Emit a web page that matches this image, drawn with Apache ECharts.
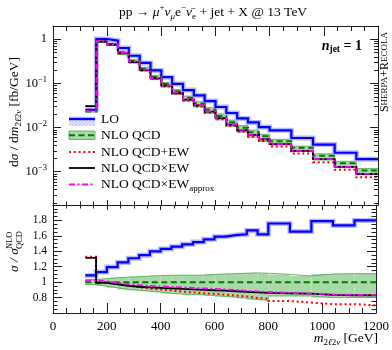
<!DOCTYPE html>
<html>
<head>
<meta charset="utf-8">
<script src="https://cdn.jsdelivr.net/npm/echarts@6.0.0/dist/echarts.min.js"></script>
<style>
html,body{margin:0;padding:0;background:#fff;}
#chart{width:392px;height:350px;}
</style>
</head>
<body>
<div id="chart"></div>
<script>
// ---------------- data ----------------
// bin edges of m_{2l2nu} [GeV]
const binEdges = [120,160,200,240,280,320,360,400,440,480,520,560,600,640,680,720,760,800,880,960,1040,1120,1200];
// NLO QCD  dσ/dm [fb/GeV]
const nloQCD = [0.0231,0.885,0.767,0.50,0.32,0.213,0.139,0.096,0.066,0.047,0.035,0.0255,0.0183,0.0132,0.0099,0.0078,0.0063,0.0049,0.0035,0.0023,0.00155,0.00107];
// ratios to NLO QCD (lower panel)
const ratioLO        = [1.087,1.13,1.195,1.255,1.31,1.35,1.40,1.43,1.46,1.49,1.52,1.555,1.59,1.61,1.62,1.67,1.62,1.76,1.655,1.79,1.735,1.80];
const ratioQCDplusEW = [1.33,1.0,0.975,0.955,0.935,0.918,0.905,0.892,0.878,0.868,0.857,0.848,0.838,0.825,0.815,0.795,0.785,0.755,0.735,0.715,0.715,0.70];
const ratioQCDxEW    = [1.315,0.99,0.97,0.952,0.94,0.933,0.926,0.918,0.913,0.905,0.90,0.895,0.89,0.882,0.875,0.868,0.862,0.855,0.85,0.835,0.83,0.83];
const ratioApprox    = [1.02,1.01,0.99,0.975,0.962,0.952,0.945,0.938,0.932,0.925,0.918,0.912,0.905,0.897,0.888,0.88,0.872,0.86,0.852,0.84,0.835,0.835];
// NLO QCD scale-uncertainty band (relative)
const nloBandUp = [1.035,1.044,1.057,1.065,1.07,1.078,1.085,1.088,1.09,1.09,1.09,1.10,1.105,1.11,1.115,1.12,1.115,1.10,1.08,1.105,1.11,1.11];
const nloBandDn = [0.97,0.948,0.927,0.905,0.895,0.883,0.87,0.855,0.845,0.84,0.835,0.825,0.815,0.805,0.79,0.775,0.765,0.82,0.82,0.80,0.80,0.80];
// axis ranges
const xRange = [0, 1200];
const yTopRange = [1.77e-4, 1.97];
const yRatioRange = [0.6, 2.0];

// ---------------- helpers ----------------
const F = '"Liberation Serif","DejaVu Serif",serif';
const frame = '#1e1e1e';
const nB = nloQCD.length;
const stepPts = vals => binEdges.map((e, i) => [e, vals[Math.min(i, nB - 1)]]);
const times = (a, b) => a.map((v, i) => v * b[i]);
const ratioNLO = nloQCD.map(() => 1);

const C = {
  lo: '#0000ff', loHalo: '#b8b8ff',
  nlo: '#007a00', bandFill: '#a6d9a6', bandEdge: '#5cad5c',
  red: '#ff0000', black: '#000000', mag: '#ff00ff'
};

function bandSeries(xi, yi, lo, hi) {
  return {
    type: 'custom', xAxisIndex: xi, yAxisIndex: yi, z: 1, silent: true, clip: true,
    data: lo.map((v, i) => [binEdges[i], binEdges[i + 1], v, hi[i]]),
    encode: { x: [0, 1], y: [2, 3] },
    renderItem(params, api) {
      const p0 = api.coord([api.value(0), api.value(3)]);
      const p1 = api.coord([api.value(1), api.value(2)]);
      return { type: 'rect', shape: { x: p0[0], y: p0[1], width: p1[0] - p0[0], height: p1[1] - p0[1] },
               style: { fill: C.bandFill } };
    }
  };
}
function stepLine(xi, yi, vals, color, width, type, z) {
  return {
    type: 'line', xAxisIndex: xi, yAxisIndex: yi, step: 'end', showSymbol: false, symbol: 'none',
    data: stepPts(vals), z: z, silent: true, clip: true,
    lineStyle: { color: color, width: width, type: type || 'solid', cap: 'butt', join: 'miter' }
  };
}
function panelSeries(xi, yi, nlo, lo, red, blk, mag, bDn, bUp) {
  return [
    bandSeries(xi, yi, bDn, bUp),
    stepLine(xi, yi, bUp, C.bandEdge, 0.9, 'solid', 2),
    stepLine(xi, yi, bDn, C.bandEdge, 0.9, 'solid', 2),
    stepLine(xi, yi, lo, C.loHalo, 5, 'solid', 3),
    stepLine(xi, yi, lo, C.lo, 2.2, 'solid', 4),
    stepLine(xi, yi, nlo, C.nlo, 2, [6, 3.5], 5),
    stepLine(xi, yi, red, C.red, 2, [2, 2.8], 6),
    stepLine(xi, yi, blk, C.black, 1.8, 'solid', 7),
    stepLine(xi, yi, mag, C.mag, 1.8, [6, 2.5, 2, 2.5], 8)
  ];
}

// minor log ticks
const minorLog = [];
for (let n = -4; n <= 0; n++) for (let k = 2; k <= 9; k++) {
  const v = k * Math.pow(10, n);
  if (v > yTopRange[0] && v < yTopRange[1]) minorLog.push([600, v]);
}
const minorTickSeries = {
  type: 'custom', xAxisIndex: 0, yAxisIndex: 0, z: 20, silent: true,
  data: minorLog, encode: { x: 0, y: 1 },
  renderItem(params, api) {
    const cs = params.coordSys;
    const y = Math.round(api.coord([api.value(0), api.value(1)])[1]) + 0.5;
    const st = { stroke: frame, lineWidth: 1 };
    return { type: 'group', children: [
      { type: 'line', shape: { x1: cs.x, y1: y, x2: cs.x + 4, y2: y }, style: st },
      { type: 'line', shape: { x1: cs.x + cs.width - 4, y1: y, x2: cs.x + cs.width, y2: y }, style: st }
    ]};
  }
};

// axes
function xAx(grid, pos, showLabel, major, minor) {
  return {
    type: 'value', gridIndex: grid, position: pos, min: xRange[0], max: xRange[1], interval: 200,
    axisLine: { show: true, onZero: false, lineStyle: { color: frame, width: 1 } },
    axisTick: { show: true, inside: true, length: major, lineStyle: { color: frame, width: 1 } },
    minorTick: { show: true, splitNumber: 4, length: minor, lineStyle: { color: frame, width: 1 } },
    axisLabel: { show: showLabel, color: '#000', fontFamily: F, fontSize: 13, margin: 7,
      formatter: v => String(Math.round(v)) },
    splitLine: { show: false }, minorSplitLine: { show: false }
  };
}
function logFmt(v) {
  const l = Math.log10(v), e = Math.round(l);
  if (Math.abs(l - e) > 1e-6) return '';
  if (e === 0) return '{b|1}';
  return '{b|10}{s|\u2212' + (-e) + '}';
}
function yLog(pos, showLabel) {
  return {
    type: 'log', logBase: 10, gridIndex: 0, position: pos, min: yTopRange[0], max: yTopRange[1],
    axisLine: { show: true, onZero: false, lineStyle: { color: frame, width: 1 } },
    axisTick: { show: true, inside: true, length: 8, lineStyle: { color: frame, width: 1 } },
    minorTick: { show: false },
    axisLabel: {
      show: showLabel, formatter: logFmt, margin: 6, showMinLabel: false, showMaxLabel: false,
      rich: {
        b: { fontFamily: F, fontSize: 12.5, color: '#000', lineHeight: 16 },
        s: { fontFamily: F, fontSize: 8.5, color: '#000', verticalAlign: 'top', lineHeight: 9 }
      }
    },
    splitLine: { show: false }
  };
}
function yRatio(pos, showLabel) {
  return {
    type: 'value', gridIndex: 1, position: pos, min: yRatioRange[0], max: yRatioRange[1], interval: 0.2,
    axisLine: { show: true, onZero: false, lineStyle: { color: frame, width: 1 } },
    axisTick: { show: true, inside: true, length: 9, lineStyle: { color: frame, width: 1 } },
    minorTick: { show: true, splitNumber: 4, length: 4.5, lineStyle: { color: frame, width: 1 } },
    axisLabel: {
      show: showLabel, color: '#000', fontFamily: F, fontSize: 11.5, margin: 6,
      showMinLabel: false, showMaxLabel: false,
      formatter: v => (Math.abs(v - 1) < 1e-9 ? '1' : v.toFixed(1))
    },
    splitLine: { show: false }, minorSplitLine: { show: false }
  };
}

// ---------------- legend & texts (graphic) ----------------
const legendRows = [
  { label: '{t|LO}', y: 119 },
  { label: '{t|NLO QCD}', y: 135.5 },
  { label: '{t|NLO QCD+EW}', y: 152 },
  { label: '{t|NLO QCD\u00d7EW}', y: 168 },
  { label: '{t|NLO QCD\u00d7EW}{sb|approx}', y: 184.5 }
];
const lx0 = 69, lx1 = 95, ltx = 101;
const richBase = {
  t: { fontFamily: F, fontSize: 13.5, fill: '#000', lineHeight: 18 },
  sb: { fontFamily: F, fontSize: 9, fill: '#000', verticalAlign: 'bottom', lineHeight: 9 }
};
const legendEls = [];
// LO icon: hatched light band + line
legendEls.push({ type: 'rect', shape: { x: lx0, y: 116.5, width: lx1 - lx0, height: 9.5 }, style: { fill: '#e6e6ff' } });
for (let hx = lx0 - 8; hx < lx1; hx += 3.5) {
  const xa = Math.max(hx, lx0), ya = 126 - (xa - hx);
  const xb = Math.min(hx + 9.5, lx1), yb = 126 - (xb - hx);
  if (xb > xa) legendEls.push({ type: 'line', shape: { x1: xa, y1: ya, x2: xb, y2: yb }, style: { stroke: '#a8a8ff', lineWidth: 0.8 } });
}
legendEls.push({ type: 'line', shape: { x1: lx0, y1: 119, x2: lx1, y2: 119 }, style: { stroke: C.lo, lineWidth: 2.4 } });
// NLO QCD icon
legendEls.push({ type: 'rect', shape: { x: lx0, y: 131, width: lx1 - lx0, height: 8.5 }, style: { fill: C.bandFill, stroke: C.bandEdge, lineWidth: 0.9 } });
legendEls.push({ type: 'line', shape: { x1: lx0, y1: 135.3, x2: lx1, y2: 135.3 }, style: { stroke: C.nlo, lineWidth: 2, lineDash: [6, 3.5] } });
legendEls.push({ type: 'line', shape: { x1: lx0, y1: 152, x2: lx1, y2: 152 }, style: { stroke: C.red, lineWidth: 2, lineDash: [2, 2.8] } });
legendEls.push({ type: 'line', shape: { x1: lx0, y1: 168, x2: lx1, y2: 168 }, style: { stroke: C.black, lineWidth: 1.8 } });
legendEls.push({ type: 'line', shape: { x1: lx0, y1: 184.5, x2: lx1, y2: 184.5 }, style: { stroke: C.mag, lineWidth: 1.8, lineDash: [6, 2.5, 2, 2.5] } });
legendRows.forEach(r => legendEls.push({
  type: 'text', x: ltx, y: r.y, style: { text: r.label, rich: richBase, align: 'left', verticalAlign: 'middle' }
}));

const mathRich = {
  n: { fontFamily: F, fontSize: 13.5, fill: '#000', lineHeight: 18 },
  i: { fontFamily: F, fontSize: 13.5, fill: '#000', fontStyle: 'italic', lineHeight: 18 },
  sp: { fontFamily: F, fontSize: 9, fill: '#000', verticalAlign: 'top', lineHeight: 9 },
  sb: { fontFamily: F, fontSize: 9, fill: '#000', verticalAlign: 'bottom', lineHeight: 9 },
  sbi: { fontFamily: F, fontSize: 9, fill: '#000', fontStyle: 'italic', verticalAlign: 'bottom', lineHeight: 9 },
  bi: { fontFamily: F, fontSize: 14, fill: '#000', fontStyle: 'italic', fontWeight: 'bold', lineHeight: 18 },
  b: { fontFamily: F, fontSize: 14, fill: '#000', fontWeight: 'bold', lineHeight: 18 },
  bsb: { fontFamily: F, fontSize: 9.5, fill: '#000', fontWeight: 'bold', verticalAlign: 'bottom', lineHeight: 9 },
  sc: { fontFamily: F, fontSize: 12, fill: '#000', lineHeight: 14 },
  scs: { fontFamily: F, fontSize: 9, fill: '#000', lineHeight: 14 }
};

const textEls = [
  // title
  { type: 'text', x: 213, y: 12, style: { align: 'center', verticalAlign: 'middle', rich: mathRich,
    text: '{n|pp \u2192 }{i|\u03bc}{sp|+}{i|\u03bd}{sbi|\u03bc}{n|e}{sp|\u2212}{i|\u03bd\u0304}{sb|e}{n| + jet + X @ 13 TeV}' } },
  // n_jet = 1
  { type: 'text', x: 362, y: 46, style: { align: 'right', verticalAlign: 'middle', rich: mathRich,
    text: '{bi|n}{bsb|jet}{b| = 1}' } },
  // Sherpa+Recola (small caps, rotated)
  { type: 'text', x: 385, y: 72, rotation: Math.PI / 2, style: { align: 'center', verticalAlign: 'middle', rich: mathRich,
    text: '{sc|S}{scs|HERPA}{sc|+R}{scs|ECOLA}' } },
  // x axis title
  { type: 'text', x: 378, y: 338, style: { align: 'right', verticalAlign: 'middle', rich: mathRich,
    text: '{i|m}{sb|2}{sbi|\u2113}{sb|2}{sbi|\u03bd}{n| [GeV]}' } },
  // top y title
  { type: 'text', x: 14, y: 112, rotation: Math.PI / 2, style: { align: 'center', verticalAlign: 'middle', rich: mathRich,
    text: '{n|d}{i|\u03c3}{n| / d}{i|m}{sb|2}{sbi|\u2113}{sb|2}{sbi|\u03bd}{n| [fb/GeV]}' } },
  // ratio y title
  { type: 'group', x: 14, y: 272, rotation: Math.PI / 2, children: [
    { type: 'text', x: 0, y: 0, style: { text: '\u03c3 / \u03c3', fontFamily: F, fontSize: 13.5, fontStyle: 'italic', fill: '#000', align: 'left', verticalAlign: 'middle' } },
    { type: 'text', x: 23, y: -4, style: { text: 'NLO', fontFamily: F, fontSize: 8.5, fill: '#000', align: 'left', verticalAlign: 'middle' } },
    { type: 'text', x: 23, y: 5.5, style: { text: 'QCD', fontFamily: F, fontSize: 8.5, fill: '#000', align: 'left', verticalAlign: 'middle' } }
  ] }
];

// ---------------- chart ----------------
const chart = echarts.init(document.getElementById('chart'), null, { renderer: 'canvas' });
chart.setOption({
  animation: false,
  backgroundColor: '#fff',
  grid: [
    { left: 53, top: 26, width: 325, height: 179, show: false },
    { left: 53, top: 205, width: 325, height: 108, show: false }
  ],
  xAxis: [
    xAx(0, 'bottom', false, 5, 3.5),
    xAx(0, 'top', false, 10, 5),
    xAx(1, 'bottom', true, 10, 5),
    xAx(1, 'top', false, 5, 3.5)
  ],
  yAxis: [
    yLog('left', true),
    yLog('right', false),
    yRatio('left', true),
    yRatio('right', false)
  ],
  series: [
    ...panelSeries(0, 0, nloQCD, times(nloQCD, ratioLO), times(nloQCD, ratioQCDplusEW),
      times(nloQCD, ratioQCDxEW), times(nloQCD, ratioApprox), times(nloQCD, nloBandDn), times(nloQCD, nloBandUp)),
    minorTickSeries,
    ...panelSeries(2, 2, ratioNLO, ratioLO, ratioQCDplusEW, ratioQCDxEW, ratioApprox, nloBandDn, nloBandUp)
  ],
  graphic: [...legendEls, ...textEls]
});
</script>
</body>
</html>
